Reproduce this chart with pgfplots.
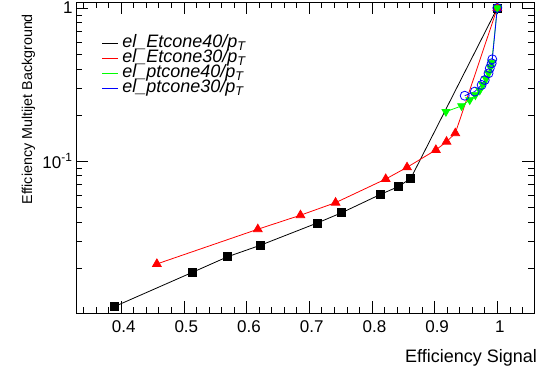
\documentclass[border=0pt]{standalone}
\usepackage{pgfplots}
\pgfplotsset{compat=1.18}
\usepackage{fontspec}
\setmainfont{Liberation Sans}
\begin{document}
\begin{tikzpicture}
\path[use as bounding box] (0,0) rectangle (548pt,376pt);
\begin{axis}[
  at={(76pt,62.7pt)}, anchor=south west,
  scale only axis, width=458.3pt, height=311.3pt,
  ymode=log,
  xmin=0.328, xmax=1.059, ymin=0.0101, ymax=1.094,
  xtick={0.4,0.5,0.6,0.7,0.8,0.9,1.0},
  xticklabels={0.4,0.5,0.6,0.7,0.8,0.9,1},
  minor xtick={0.34,0.36,0.38,0.42,0.44,0.46,0.48,0.52,0.54,0.56,0.58,0.62,0.64,0.66,0.68,0.72,0.74,0.76,0.78,0.82,0.84,0.86,0.88,0.92,0.94,0.96,0.98,1.02,1.04},
  ytick={0.01,0.1,1},
  yticklabels={{},{10\textsuperscript{-1}},{1}},
  minor ytick={0.02,0.03,0.04,0.05,0.06,0.07,0.08,0.09,0.2,0.3,0.4,0.5,0.6,0.7,0.8,0.9},
  tick align=inside,
  major tick length=12pt, minor tick length=6pt,
  tick style={black, line width=0.6pt},
  axis line style={line width=0.8pt},
  /pgf/number format/assume math mode=true,
  xticklabel style={font=\fontsize{17}{17}\selectfont, yshift=-4pt, xshift=2.5pt},
  yticklabel style={font=\fontsize{17}{17}\selectfont},
  xlabel={Efficiency Signal},
  xlabel style={at={(axis description cs:1.006,-0.157)}, anchor=base east, inner sep=0pt, font=\fontsize{18}{18}\selectfont},
  ylabel={Efficiency Multijet Background},
  ylabel style={at={(axis description cs:-0.096,0.962)}, anchor=base east, inner sep=0pt, font=\fontsize{14.3}{14.3}\selectfont},
  legend style={at={(rel axis cs:0.056,0.892)}, anchor=north west, draw=none, fill=none,
    font=\itshape\fontsize{18}{18}\selectfont, row sep=0pt, inner sep=0pt,
    nodes={inner sep=0pt, text height=11.5pt, text depth=3.5pt}},
  legend cell align=left,
  legend image code/.code={\draw[#1,line width=0.5pt] (0pt,0pt) -- (16pt,0pt);},
]
\addplot[black, line width=0.8pt, mark=square*, mark size=4pt] coordinates {
(0.389,0.01116) (0.514,0.01874) (0.570,0.02368) (0.622,0.02812) (0.713,0.03935)
(0.752,0.04594) (0.814,0.06058) (0.842,0.06792) (0.862,0.07703) (1.000,1.000)};
\addlegendentry{\hspace{4pt}el\_Etcone40/p\textsubscript{T}}
\addplot[red, line width=0.8pt, mark=triangle*, mark size=5pt] coordinates {
(0.457,0.02123) (0.618,0.0358) (0.686,0.0442) (0.742,0.0534) (0.822,0.0762)
(0.856,0.0909) (0.902,0.118) (0.919,0.1336) (0.933,0.1518) (1.000,1.000)};
\addlegendentry{\hspace{4pt}el\_Etcone30/p\textsubscript{T}}
\addplot[green, line width=0.8pt, mark=triangle*, mark size=4.5pt, mark options={rotate=180}] coordinates {
(0.918,0.210) (0.943,0.229) (0.956,0.2505) (0.965,0.270) (0.972,0.290) (0.977,0.315)
(0.982,0.345) (0.986,0.375) (0.989,0.410) (0.991,0.440) (1.000,1.000)};
\addlegendentry{\hspace{4pt}el\_ptcone40/p\textsubscript{T}}
\addplot[blue, line width=0.8pt, mark=o, mark size=4.5pt] coordinates {
(0.948,0.267) (0.964,0.284) (0.975,0.314) (0.980,0.338) (0.986,0.374)
(0.988,0.404) (0.991,0.435) (0.992,0.462) (1.000,1.000)};
\addlegendentry{\hspace{4pt}el\_ptcone30/p\textsubscript{T}}
\end{axis}
\end{tikzpicture}
\end{document}
